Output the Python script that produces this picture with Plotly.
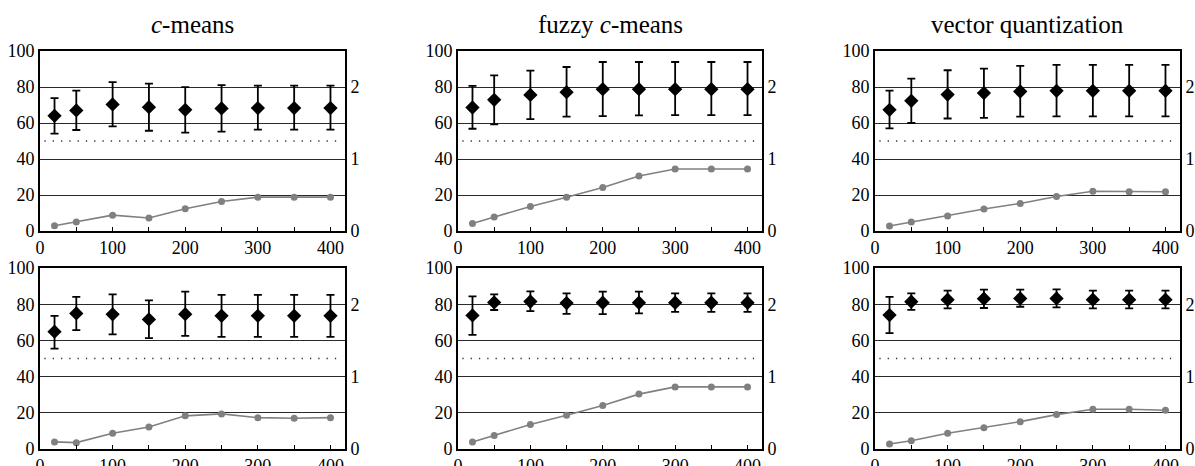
import plotly.graph_objects as go

x_vals = [20, 50, 100, 150, 200, 250, 300, 350, 400]
titles = ["<i>c</i>-means", "fuzzy <i>c</i>-means", "vector quantization"]

# accuracy (left axis, %): mean, upper, lower
acc_mean = [
    [64.0, 67.0, 70.3, 68.8, 67.3, 68.1, 68.3, 68.3, 68.3],
    [68.6, 72.9, 75.6, 77.1, 78.8, 78.8, 78.8, 78.8, 78.8],
    [67.3, 72.3, 75.8, 76.6, 77.5, 77.9, 77.9, 77.9, 77.9],
    [64.8, 74.9, 74.4, 71.6, 74.5, 73.6, 73.6, 73.6, 73.6],
    [73.8, 81.0, 81.5, 80.6, 80.8, 80.8, 80.8, 80.8, 80.8],
    [74.0, 81.4, 82.5, 83.0, 83.2, 83.2, 82.5, 82.5, 82.5],
]
acc_upper = [
    [73.8, 78.0, 82.7, 81.9, 79.9, 81.0, 80.8, 80.8, 80.8],
    [80.6, 86.5, 89.1, 91.1, 93.9, 93.9, 93.9, 93.9, 93.9],
    [78.0, 84.7, 89.3, 90.2, 91.7, 92.3, 92.3, 92.3, 92.3],
    [73.6, 84.1, 85.4, 82.1, 86.9, 85.2, 85.2, 85.2, 85.2],
    [84.3, 85.4, 87.1, 86.0, 86.9, 86.9, 86.0, 86.0, 86.0],
    [84.1, 86.0, 87.5, 88.0, 88.0, 88.2, 87.5, 87.5, 87.5],
]
acc_lower = [
    [54.1, 56.1, 58.1, 55.7, 54.6, 55.2, 56.3, 56.3, 56.3],
    [56.8, 59.2, 62.2, 63.5, 63.8, 64.2, 64.4, 64.4, 64.4],
    [57.0, 60.0, 62.5, 62.9, 63.5, 63.7, 63.7, 63.7, 63.7],
    [55.5, 65.7, 63.3, 61.3, 62.5, 62.0, 62.0, 62.0, 62.0],
    [63.1, 76.8, 76.2, 74.7, 74.5, 74.9, 75.8, 75.8, 75.8],
    [64.0, 76.9, 77.7, 77.9, 78.6, 78.2, 77.7, 77.7, 77.7],
]
# grey series (right axis)
grey_vals = [
    [0.074, 0.125, 0.22, 0.18, 0.31, 0.41, 0.47, 0.47, 0.47],
    [0.105, 0.194, 0.341, 0.47, 0.605, 0.765, 0.862, 0.862, 0.862],
    [0.07, 0.125, 0.208, 0.305, 0.383, 0.48, 0.553, 0.545, 0.545],
    [0.098, 0.088, 0.218, 0.305, 0.458, 0.485, 0.433, 0.425, 0.433],
    [0.098, 0.185, 0.338, 0.465, 0.60, 0.758, 0.858, 0.858, 0.858],
    [0.07, 0.115, 0.218, 0.295, 0.378, 0.475, 0.55, 0.55, 0.535],
]

W, H = 1195, 466
col_px = [(40, 345), (458, 762), (875, 1180)]
row_px = [(51, 231), (268, 449)]

FONT = "Liberation Serif, Times New Roman, serif"
TICKFONT = dict(family=FONT, size=18, color="black")
fig = go.Figure()
layout = dict(
    width=W, height=H,
    margin=dict(l=0, r=0, t=0, b=0, autoexpand=False),
    paper_bgcolor="white", plot_bgcolor="white",
    showlegend=False,
    font=dict(family=FONT, size=18, color="black"),
)
shapes = []
annotations = []

for i in range(6):
    r, c = divmod(i, 3)
    n = i + 1
    xa = "x" if n == 1 else f"x{n}"
    ya = "y" if n == 1 else f"y{n}"
    ya2 = f"y{n + 6}"
    xd = [col_px[c][0] / W, col_px[c][1] / W]
    yd = [1 - row_px[r][1] / H, 1 - row_px[r][0] / H]
    layout[f"xaxis{'' if n == 1 else n}"] = dict(
        domain=xd, anchor=ya, range=[0, 420],
        tickvals=[0, 50, 100, 150, 200, 250, 300, 350, 400],
        ticktext=["0", "", "100", "", "200", "", "300", "", "400"],
        ticks="inside", ticklen=4, tickwidth=1, tickcolor="black",
        showline=True, linecolor="black", linewidth=1.6, mirror=True,
        showgrid=False, zeroline=False, automargin=False,
        tickfont=TICKFONT, fixedrange=True,
    )
    layout[f"yaxis{'' if n == 1 else n}"] = dict(
        domain=yd, anchor=xa, range=[0, 100],
        tickvals=[0, 20, 40, 60, 80, 100],
        ticks="", showline=True, linecolor="black", linewidth=1.6,
        showgrid=True, gridcolor="#2a2a2a", gridwidth=1.2, zeroline=False,
        automargin=False, ticklabelstandoff=0,
        tickfont=TICKFONT, fixedrange=True,
    )
    layout[f"yaxis{n + 6}"] = dict(
        overlaying=ya, anchor=xa, side="right", range=[0, 2.5],
        tickvals=[0, 1, 2], ticks="", showline=True, linecolor="black",
        linewidth=1.6, showgrid=False, zeroline=False, automargin=False,
        ticklabelstandoff=0,
        tickfont=TICKFONT, fixedrange=True,
    )
    # dotted reference line at 50
    shapes.append(dict(type="line", xref=xa, yref=ya, x0=6, x1=415, y0=50, y1=50,
                       line=dict(color="#333333", width=1.3, dash="1.3px,7px")))

    fig.add_trace(go.Scatter(
        x=x_vals, y=grey_vals[i], xaxis=xa, yaxis=ya2, mode="lines+markers",
        line=dict(color="#808080", width=1.6),
        marker=dict(symbol="circle", size=7, color="#808080"),
        hoverinfo="skip",
    ))
    plus = [u - m for u, m in zip(acc_upper[i], acc_mean[i])]
    minus = [m - l for m, l in zip(acc_mean[i], acc_lower[i])]
    fig.add_trace(go.Scatter(
        x=x_vals, y=acc_mean[i], xaxis=xa, yaxis=ya, mode="markers",
        marker=dict(symbol="diamond", size=11, color="black"),
        error_y=dict(type="data", array=plus, arrayminus=minus, visible=True,
                     color="black", thickness=1.8, width=4),
        hoverinfo="skip",
    ))
    if r == 0:
        annotations.append(dict(
            text=titles[c], xref="paper", yref="paper",
            x=(xd[0] + xd[1]) / 2, y=1 - 25 / H, xanchor="center", yanchor="middle",
            showarrow=False, font=dict(family=FONT, size=25, color="black"),
        ))

layout["shapes"] = shapes
layout["annotations"] = annotations
fig.update_layout(**layout)
fig.write_html(
    "out.html",
    config={"displayModeBar": False},
    post_script="document.body.style.margin='0px';document.body.style.overflow='hidden';",
)
